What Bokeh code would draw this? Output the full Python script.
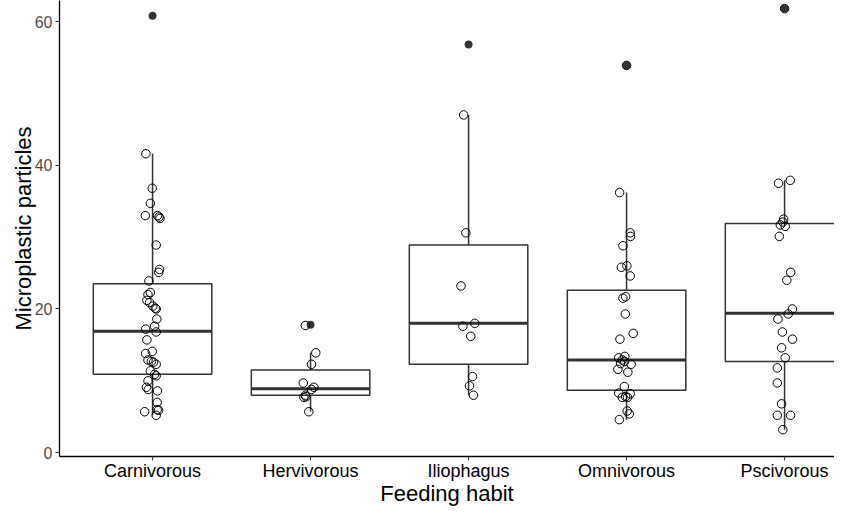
from bokeh.plotting import figure
from bokeh.models import Range1d, FixedTicker, ColumnDataSource
from bokeh.embed import file_html
from bokeh.resources import INLINE

# ---------------- data ----------------
categories = ["Carnivorous", "Hervivorous", "Iliophagus", "Omnivorous", "Pscivorous"]
whisker_low = [5.2, 5.7, 8.0, 4.6, 3.2]
q1 = [10.9, 8.0, 12.3, 8.7, 12.7]
median = [16.9, 8.9, 18.0, 12.9, 19.4]
q3 = [23.5, 11.5, 28.9, 22.6, 31.9]
whisker_high = [41.6, 13.9, 47.0, 36.2, 37.9]
outliers = [60.8, 17.8, 56.8, 53.9, 61.8]

carn_vals = [41.6, 36.8, 34.7, 33.0, 33.0, 32.8, 32.6, 28.9, 25.5, 25.1,
             23.9, 22.3, 22.0, 21.2, 20.9, 20.4, 20.1, 20.0, 18.6, 17.6,
             17.2, 16.8, 15.7, 14.1, 13.8, 12.9, 12.7, 12.6, 12.3, 11.4,
             10.9, 10.7, 10.0, 9.1, 8.8, 8.6, 7.0, 6.0, 5.9, 5.7, 5.2]
carn_jit = [-0.042, -0.002, -0.014, -0.046, 0.031, 0.041, 0.047, 0.023, 0.044, 0.039,
            -0.023, -0.014, -0.029, -0.036, -0.019, 0.002, 0.017, 0.023, 0.027, 0.013,
            -0.044, 0.023, -0.036, -0.002, -0.044, -0.029, -0.008, 0.006, 0.023, -0.014,
            0.013, 0.023, -0.029, -0.039, -0.027, 0.031, 0.029, 0.029, 0.038, -0.050, 0.023]

herv_vals = [17.7, 13.9, 12.3, 9.7, 9.1, 8.8, 8.0, 7.7, 7.8, 5.7]
herv_jit = [-0.033, 0.033, 0.006, -0.046, 0.021, 0.006, -0.033, -0.042, -0.029, -0.011]

ilio_vals = [47.0, 30.6, 23.2, 18.0, 17.6, 16.2, 10.6, 9.3, 8.0]
ilio_jit = [-0.031, -0.017, -0.048, 0.039, -0.036, 0.014, 0.025, 0.006, 0.031]

omni_vals = [53.9, 36.2, 30.6, 30.1, 28.8, 26.0, 25.8, 24.6, 21.7, 21.5,
             19.3, 16.6, 15.8, 13.4, 13.2, 12.9, 12.7, 12.4, 12.3, 11.6,
             11.2, 9.2, 8.3, 8.2, 7.8, 7.7, 7.7, 5.8, 5.4, 4.6]
omni_jit = [0.0, -0.044, 0.023, 0.025, -0.023, 0.002, -0.033, 0.023, -0.006, -0.023,
            -0.008, 0.042, -0.042, -0.011, -0.050, -0.027, -0.013, -0.038, 0.029, -0.055,
            0.008, -0.014, -0.050, 0.023, -0.006, -0.027, 0.006, 0.004, 0.017, -0.046]

psci_vals = [61.8, 37.9, 37.5, 32.5, 32.1, 31.7, 31.5, 30.1, 25.1, 24.0,
             20.0, 19.3, 18.6, 16.8, 15.8, 14.6, 13.2, 11.8, 9.7, 6.8,
             5.2, 5.2, 3.2]
psci_jit = [0.0, 0.036, -0.038, -0.006, -0.011, -0.027, 0.004, -0.033, 0.039, 0.014,
            0.050, 0.023, -0.042, -0.014, 0.050, -0.019, 0.004, -0.046, -0.046, -0.019,
            -0.046, 0.038, -0.011]

y_ticks = [0, 20, 40, 60]
x_title = "Feeding habit"
y_title = "Microplastic particles"

# ---------------- build ----------------
pos = [i + 1 for i in range(len(categories))]
box_w = 0.75
x0, x1 = 0.411, 5.316
y0, y1 = -0.53, 62.93

p = figure(width=834, height=509, output_backend="svg", toolbar_location=None,
           x_range=Range1d(x0, x1), y_range=Range1d(y0, y1),
           min_border_left=59, min_border_right=0, min_border_top=0, min_border_bottom=53)

p.background_fill_color = "white"
p.border_fill_color = "white"
p.outline_line_color = None
p.grid.visible = False

box_src = ColumnDataSource(dict(
    x=pos,
    left=[x - box_w / 2 for x in pos],
    right=[x + box_w / 2 for x in pos],
    lo=whisker_low, q1=q1, med=median, q3=q3, hi=whisker_high, out=outliers,
))

grey20 = "#333333"
p.segment(x0="x", y0="q3", x1="x", y1="hi", source=box_src, line_color=grey20, line_width=1.5)
p.segment(x0="x", y0="lo", x1="x", y1="q1", source=box_src, line_color=grey20, line_width=1.5)
p.quad(left="left", right="right", bottom="q1", top="q3", source=box_src,
       fill_color="white", line_color=grey20, line_width=1.5)
p.segment(x0="left", y0="med", x1="right", y1="med", source=box_src,
          line_color=grey20, line_width=3)
p.scatter(x="x", y="out", source=box_src, size=7.5, fill_color=grey20,
          line_color=grey20, line_width=0.5)

groups = [(carn_vals, carn_jit), (herv_vals, herv_jit), (ilio_vals, ilio_jit),
          (omni_vals, omni_jit), (psci_vals, psci_jit)]
px, py = [], []
for i, (vals, jit) in enumerate(groups):
    for v, j in zip(vals, jit):
        px.append(pos[i] + j)
        py.append(v)
p.scatter(px, py, size=8.5, fill_color=None, line_color="black", line_width=1)

# axes
for ax in (p.xaxis[0], p.yaxis[0]):
    ax.axis_line_color = "black"
    ax.axis_line_width = 1.3
    ax.major_tick_line_color = grey20
    ax.major_tick_line_width = 1.1
    ax.major_tick_out = 4
    ax.major_tick_in = 0
    ax.minor_tick_line_color = None
    ax.axis_label_text_font = "Liberation Sans"
    ax.axis_label_text_font_style = "normal"
    ax.axis_label_text_font_size = "22px"
    ax.axis_label_text_color = "black"
    ax.major_label_text_font = "Liberation Sans"

p.xaxis.ticker = FixedTicker(ticks=pos)
p.xaxis.major_label_overrides = {x: c for x, c in zip(pos, categories)}
p.xaxis.major_label_text_font_size = "18px"
p.xaxis.major_label_text_color = "black"
p.xaxis.major_label_standoff = 0
p.xaxis.axis_label = x_title
p.xaxis.axis_label_standoff = -3

p.yaxis.ticker = FixedTicker(ticks=y_ticks)
p.yaxis.major_label_text_font_size = "16px"
p.yaxis.major_label_text_color = "#4d4d4d"
p.yaxis.major_label_standoff = 3
p.yaxis.axis_label = y_title
p.yaxis.axis_label_standoff = -4

open("out.html", "w").write(file_html(p, INLINE))
